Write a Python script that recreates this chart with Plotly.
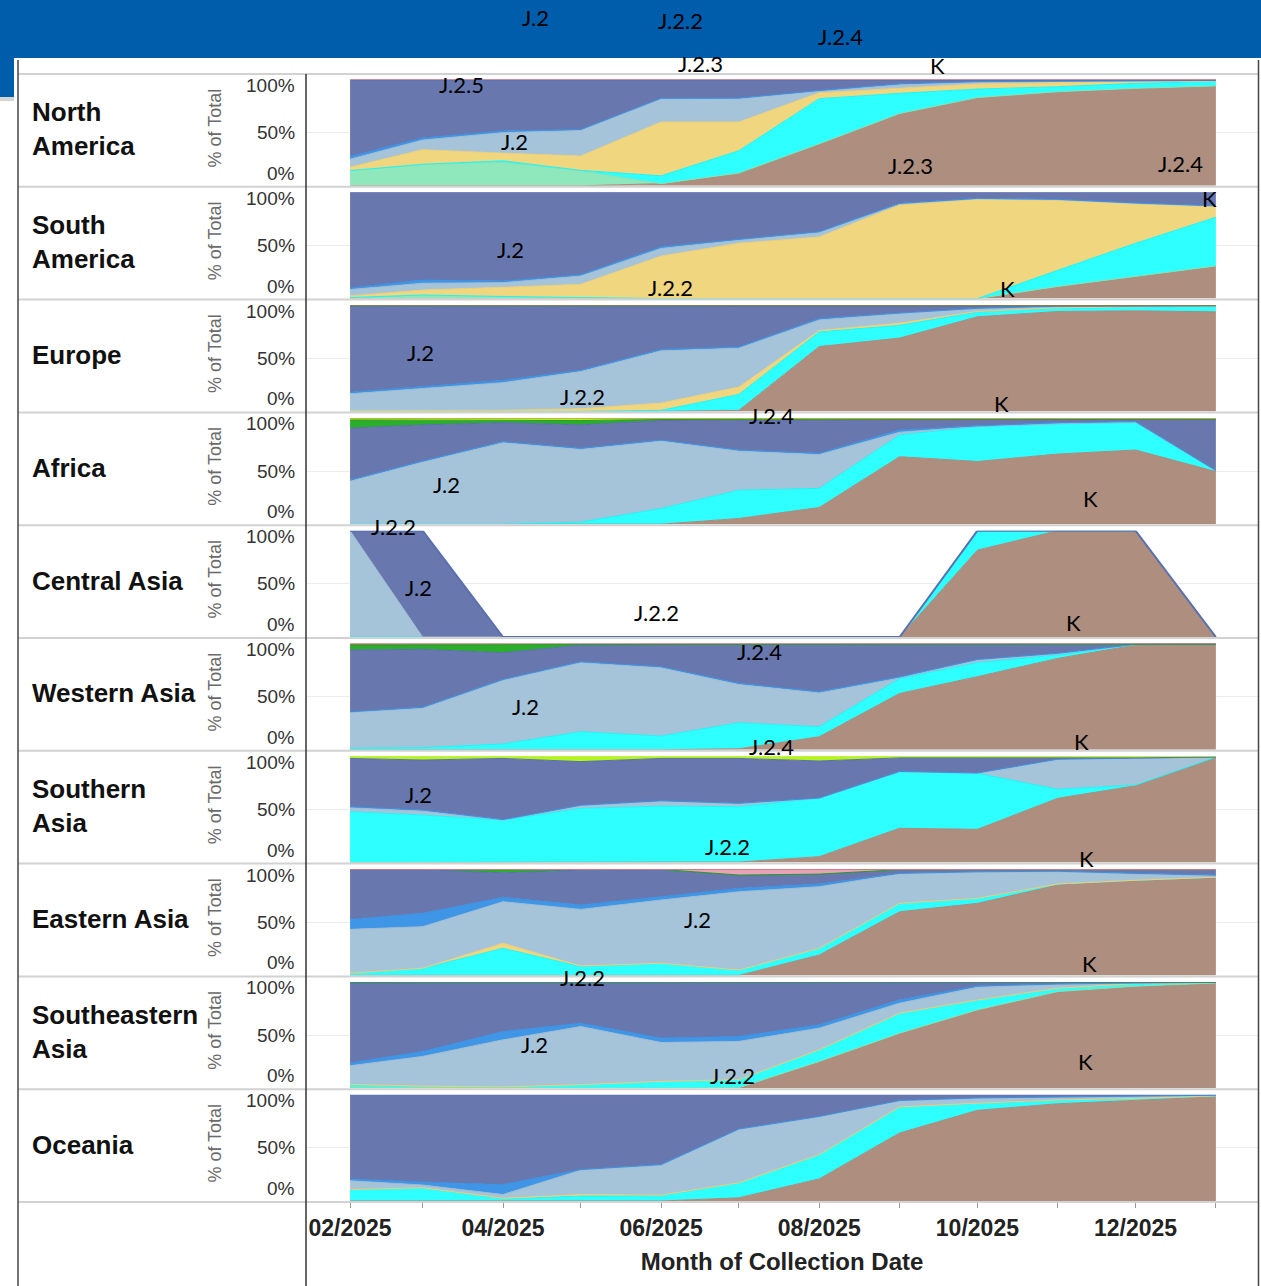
import plotly.graph_objects as go

W, H = 1261, 1286

# ---------------- data ----------------
MONTHS = ["2025-02-01", "2025-03-01", "2025-04-01", "2025-05-01", "2025-06-01", "2025-07-01",
          "2025-08-01", "2025-09-01", "2025-10-01", "2025-11-01", "2025-12-01", "2026-01-01"]

REGIONS = ["North<br>America", "South<br>America", "Europe", "Africa", "Central Asia",
           "Western Asia", "Southern<br>Asia", "Eastern Asia", "Southeastern<br>Asia", "Oceania"]

Y_TICK_TEXT = ["100%", "50%", "0%"]
Y_TITLE = "% of Total"
X_TITLE = "Month of Collection Date"

# share (% of total) per lineage group, Feb 2025 .. Jan 2026
NA_K      = [0, 0, 0, 0, 2, 12, 39.5, 68, 83, 88.5, 91.7, 94]
NA_MINT   = [14, 20, 22, 14, 0, 0, 0, 0, 0, 0, 0, 0]
NA_CYAN   = [0.3, 0.3, 1.5, 0.5, 7.4, 21, 42.5, 19, 8, 4.7, 4.7, 4]
NA_YELLOW = [3.2, 13.7, 7.2, 13.5, 50.6, 27, 5.5, 5, 4.8, 3.8, 1.2, 0.5]
NA_LBLUE  = [7.5, 9, 19.3, 24, 21.7, 21.7, 1.5, 3, 1.9, 1, 0.9, 0.5]
NA_BBLUE  = [2.5, 2, 1.6, 1, 0.6, 0.8, 0.7, 1, 0.3, 0.3, 0.2, 0.2]
NA_SLATE  = [72, 54.5, 47.9, 46.5, 17.2, 17, 9.8, 3.5, 1.5, 1.2, 0.8, 0.3]
NA_RED    = [0.5, 0.5, 0.5, 0.5, 0.5, 0.5, 0.5, 0.5, 0.5, 0.5, 0.5, 0.5]

SA_K      = [0, 0, 0, 0, 0, 0, 0, 0, 0, 11.4, 20.6, 30.7]
SA_MINT   = [1, 3.4, 2, 1, 0, 0, 0, 0, 0, 0, 0, 0]
SA_CYAN   = [0, 0, 0, 0, 0, 0, 0, 0, 0, 15.2, 31.4, 45.8]
SA_YELLOW = [1.5, 4.6, 8.6, 12.4, 40, 52, 58, 88, 93.5, 65.9, 37, 10]
SA_LBLUE  = [6, 6.4, 4.4, 7.8, 7.2, 3, 4, 1, 0.5, 0.5, 0.6, 0.5]
SA_BBLUE  = [1.5, 3.1, 1.5, 1.3, 1.6, 0.8, 1, 0.6, 0.3, 0.4, 0.4, 0.3]
SA_SLATE  = [90, 82.5, 83.5, 77.5, 51.2, 44.2, 37, 10.4, 5.7, 6.6, 10, 12.7]

EU_K      = [0, 0, 0, 0, 0, 1, 61, 69, 89, 94, 94.6, 93.7]
EU_CYAN   = [0, 0, 0, 0, 1, 15, 13.8, 12, 4.5, 3, 3.4, 5.3]
EU_YELLOW = [0.5, 0.8, 1, 2.5, 6.8, 6.9, 1.2, 2, 0.5, 0.5, 0.3, 0.2]
EU_LBLUE  = [16, 20.7, 26, 35, 49.2, 36.6, 10, 9, 2.8, 1, 0.5, 0.1]
EU_BBLUE  = [1.5, 2.1, 2.2, 1.2, 1.2, 1.2, 1.4, 0.5, 0.2, 0.5, 0.2, 0.1]
EU_SLATE  = [80.8, 75.2, 69.3, 59.8, 40.3, 38.1, 11.6, 6.5, 2.2, 0.3, 0.3, 0.1]
EU_GREEN  = [0.7, 0.7, 1, 1, 1, 0.7, 0.5, 0.5, 0.3, 0.2, 0.2, 0]
EU_RED    = [0.5, 0.5, 0.5, 0.5, 0.5, 0.5, 0.5, 0.5, 0.5, 0.5, 0.5, 0.5]

AF_K      = [0, 0, 0, 0, 0, 5.4, 15.7, 63.5, 59, 66, 69.8, 49.5]
AF_CYAN   = [0, 0, 0, 2, 14.8, 26.6, 18, 20.5, 32.8, 28.3, 25.8, 0.8]
AF_LBLUE  = [40.5, 58.4, 76.7, 68.4, 63.4, 36.8, 31.8, 2.5, 0.2, 0.2, 0.4, 0]
AF_BBLUE  = [1, 1, 1, 1, 1, 1, 1.2, 2.2, 0.5, 1, 0.5, 0.2]
AF_SLATE  = [48.8, 34, 17.8, 22, 18.3, 28.2, 31.6, 9.8, 6, 3, 2, 48]
AF_GREEN  = [7.7, 4.6, 2.5, 4.1, 1, 0.8, 0.7, 0.5, 0.5, 0.5, 0.5, 0.5]
AF_YGREEN = [1.7, 1.7, 1.7, 2, 1, 0.7, 0.5, 0.5, 0.5, 0.5, 0.5, 0.5]
AF_RED    = [0.3, 0.3, 0.3, 0.5, 0.5, 0.5, 0.5, 0.5, 0.5, 0.5, 0.5, 0.5]

CA_K      = [0, 0, 0, 0, 0, 0, 0, 0, 81.7, 100, 100, 0]
CA_CYAN   = [0, 0, 0, 0, 0, 0, 0, 0, 18.3, 0, 0, 0]
CA_LBLUE  = [100, 0, 0, 0, 0, 0, 0, 0, 0, 0, 0, 0]
CA_SLATE  = [0, 100, 0, 0, 0, 0, 0, 0, 0, 0, 0, 0]

WA_K      = [0, 0, 0, 0, 0, 1, 12.3, 53, 68.8, 86, 98.6, 99]
WA_CYAN   = [1.4, 2, 5.5, 17, 13, 24.5, 9.4, 14, 13.2, 3.2, 0.4, 0.2]
WA_LBLUE  = [33.6, 37, 59.8, 65, 64.2, 36, 31.8, 0.5, 2.5, 1.1, 0.1, 0.1]
WA_BBLUE  = [0.8, 1, 1, 0.9, 1, 1, 1.2, 1.3, 0.5, 0.5, 0.1, 0]
WA_SLATE  = [58.1, 54.5, 25, 15.6, 20.8, 36.5, 44.3, 30.2, 14, 8.2, 0.1, 0.1]
WA_GREEN  = [4.6, 4, 7.2, 0.5, 0.3, 0.3, 0.3, 0.3, 0.3, 0.3, 0.1, 0.1]
WA_RED    = [1.5, 1.5, 1.5, 1, 0.7, 0.7, 0.7, 0.7, 0.7, 0.7, 0.6, 0.5]

SO_K      = [0, 0, 0, 0, 0, 0.5, 5.6, 32.3, 31.3, 60.5, 72.3, 99]
SO_CYAN   = [47.9, 44.8, 40, 51, 53.2, 52.1, 54.9, 53.2, 52.7, 8.5, 0.7, 0.2]
SO_LBLUE  = [3.7, 3.7, 0, 2.5, 4.3, 2.7, 0, 0, 0, 28, 25, 0.1]
SO_BBLUE  = [1, 1, 0.5, 0.5, 0.7, 0.5, 0.3, 0.3, 0.3, 0.3, 0.3, 0]
SO_SLATE  = [45.4, 47, 57.5, 41, 39.8, 42.2, 34.8, 12.7, 14.2, 1.2, 0.2, 0]
SO_YGREEN = [2, 3.5, 2, 5, 2, 2, 4.4, 1.5, 1.5, 1.5, 1.5, 0.7]

EA_K      = [0, 0, 0, 0, 0, 0, 19.2, 59.9, 67.8, 85, 89, 92.2]
EA_CYAN   = [2, 6.7, 25.5, 8.3, 11.4, 5, 6.3, 7.9, 4.7, 1, 0.5, 0.2]
EA_YELLOW = [0, 0, 4.7, 0.5, 0, 0, 0, 0, 0, 0, 0, 0]
EA_LBLUE  = [41.3, 39.1, 39.1, 53.3, 59.5, 73.7, 57.9, 27.7, 24.5, 11.5, 5.8, 1.1]
EA_BBLUE  = [9.4, 12.6, 4.1, 4.1, 3.1, 3.2, 2.5, 0.5, 0.5, 0.5, 0.7, 0.9]
EA_SLATE  = [46.8, 41.1, 23.1, 32.8, 25.5, 12.5, 9.4, 3.5, 2, 1.5, 3.5, 5.1]
EA_GREEN  = [0.2, 0.2, 3, 0.5, 0.2, 0, 0, 0, 0, 0, 0, 0]
EA_PINK   = [0, 0, 0, 0, 0.3, 5.1, 4.2, 0, 0, 0, 0, 0]
EA_RED    = [0.3, 0.3, 0.5, 0.5, 0, 0.5, 0.5, 0.5, 0.5, 0.5, 0.5, 0.5]

SE_K      = [0, 0, 0, 0, 0, 0.5, 25.2, 51.8, 73.7, 90.9, 96, 99]
SE_MINT   = [1, 0.5, 0, 0, 0, 0, 0, 0, 0, 0, 0, 0]
SE_CYAN   = [2.3, 1.2, 1.2, 3.3, 6.4, 7.5, 11, 18.8, 9.3, 3.1, 2.4, 0.5]
SE_YELLOW = [0.2, 0.2, 0, 0, 0, 0, 0, 0, 0, 0, 0, 0]
SE_LBLUE  = [17.6, 28, 44.3, 54.7, 36.6, 36, 20.3, 9.4, 12, 3.5, 0.4, 0.1]
SE_BBLUE  = [2.6, 4.7, 7.8, 3.2, 4.1, 4.6, 3.1, 3.1, 1.2, 0.5, 0.2, 0]
SE_SLATE  = [75.3, 64.4, 45.7, 38, 51.9, 50.4, 39.4, 15.9, 2.8, 1, 0.2, 0]
SE_GREEN  = [1, 1, 1, 0.8, 1, 1, 1, 1, 1, 1, 0.8, 0.4]

OC_K      = [0, 0, 0, 0, 0, 3, 20.8, 64, 85.3, 91.5, 94.6, 98]
OC_CYAN   = [10.8, 12.4, 2, 4.7, 5, 14.1, 22.9, 24.5, 6.7, 3.5, 1.9, 1]
OC_YELLOW = [0, 0, 0.5, 1.3, 0.5, 0, 0, 0, 0, 0, 0, 0]
OC_LBLUE  = [8.2, 2.6, 3.6, 23, 28, 49.9, 35.3, 5.5, 4.5, 2.5, 1.5, 0.3]
OC_BBLUE  = [1.8, 2.7, 9.4, 0.6, 0.8, 0.8, 0.6, 0.6, 0.5, 0.5, 0.5, 0.2]
OC_SLATE  = [79.2, 82.3, 84.5, 70.4, 65.7, 32.2, 20.4, 5.4, 3, 2, 1.5, 0.5]

# lineage labels written over the chart: (text, x px, y px)
LINEAGE_LABELS = [
    ("J.2", 535, 17), ("J.2.2", 680, 20), ("J.2.4", 840, 36), ("J.2.3", 700, 63), ("K", 937, 65),
    ("J.2.5", 462, 84), ("J.2", 514, 141), ("J.2.3", 910, 166), ("J.2.4", 1180, 164), ("K", 1209, 198),
    ("J.2", 510, 249), ("J.2.2", 670, 287), ("K", 1007, 288),
    ("J.2", 420, 352), ("J.2.2", 582, 396), ("J.2.4", 771, 415), ("K", 1001, 404),
    ("J.2", 446, 484), ("K", 1090, 498),
    ("J.2.2", 393, 527), ("J.2", 418, 587), ("J.2.2", 656, 612), ("K", 1073, 622),
    ("J.2.4", 759, 651), ("J.2", 525, 706), ("J.2.4", 771, 746), ("K", 1081, 741),
    ("J.2", 418, 794), ("J.2.2", 728, 846), ("K", 1086, 858),
    ("J.2", 697, 919), ("K", 1089, 963), ("J.2.2", 582, 977),
    ("J.2", 534, 1044), ("J.2.2", 732, 1075), ("K", 1085, 1061),
]

# ---------------- styling ----------------
LAYERS = ["K", "mint", "cyan", "yellow", "lblue", "bblue", "slate", "green", "ygreen", "pink", "red"]
FILL = {"K": "#AD8E7F", "mint": "#8FE8BB", "cyan": "#2EFFFF", "yellow": "#F1D680",
        "lblue": "#A6C4D9", "bblue": "#3F96E6", "slate": "#6878AE", "green": "#2BAE2B",
        "ygreen": "#B6F41E", "pink": "#E9A3B6", "red": "#C87272"}
LINE = {"K": "#A9897A", "mint": "#86E2B3", "cyan": "#20F2F5", "yellow": "#ECCF75",
        "lblue": "#9DBBD3", "bblue": "#3C8FE0", "slate": "#5A6FAF", "green": "#259E25",
        "ygreen": "#ADEB18", "pink": "#E39AAE", "red": "#C06868"}

ROWS = [
    {"K": NA_K, "mint": NA_MINT, "cyan": NA_CYAN, "yellow": NA_YELLOW, "lblue": NA_LBLUE,
     "bblue": NA_BBLUE, "slate": NA_SLATE, "red": NA_RED},
    {"K": SA_K, "mint": SA_MINT, "cyan": SA_CYAN, "yellow": SA_YELLOW, "lblue": SA_LBLUE,
     "bblue": SA_BBLUE, "slate": SA_SLATE},
    {"K": EU_K, "cyan": EU_CYAN, "yellow": EU_YELLOW, "lblue": EU_LBLUE, "bblue": EU_BBLUE,
     "slate": EU_SLATE, "green": EU_GREEN, "red": EU_RED},
    {"K": AF_K, "cyan": AF_CYAN, "lblue": AF_LBLUE, "bblue": AF_BBLUE, "slate": AF_SLATE,
     "green": AF_GREEN, "ygreen": AF_YGREEN, "red": AF_RED},
    {"K": CA_K, "cyan": CA_CYAN, "lblue": CA_LBLUE, "slate": CA_SLATE},
    {"K": WA_K, "cyan": WA_CYAN, "lblue": WA_LBLUE, "bblue": WA_BBLUE, "slate": WA_SLATE,
     "green": WA_GREEN, "red": WA_RED},
    {"K": SO_K, "cyan": SO_CYAN, "lblue": SO_LBLUE, "bblue": SO_BBLUE, "slate": SO_SLATE,
     "ygreen": SO_YGREEN},
    {"K": EA_K, "cyan": EA_CYAN, "yellow": EA_YELLOW, "lblue": EA_LBLUE, "bblue": EA_BBLUE,
     "slate": EA_SLATE, "green": EA_GREEN, "pink": EA_PINK, "red": EA_RED},
    {"K": SE_K, "mint": SE_MINT, "cyan": SE_CYAN, "yellow": SE_YELLOW, "lblue": SE_LBLUE,
     "bblue": SE_BBLUE, "slate": SE_SLATE, "green": SE_GREEN},
    {"K": OC_K, "cyan": OC_CYAN, "yellow": OC_YELLOW, "lblue": OC_LBLUE, "bblue": OC_BBLUE,
     "slate": OC_SLATE},
]
NORMALISE = [True, True, True, True, False, True, True, True, True, True]

# ---------------- geometry (pixels) ----------------
X_LEFT, X_RIGHT = 306, 1258
ROW_H = 112.8
SEPS = [74 + ROW_H * i for i in range(11)]


def fx(p):
    return p / W


def fy(p):
    return 1 - p / H


fig = go.Figure()
layout = dict(
    width=W, height=H, autosize=False,
    margin=dict(l=0, r=0, t=0, b=0, pad=0),
    paper_bgcolor="white", plot_bgcolor="white",
    showlegend=False, hovermode=False,
    font=dict(family="Liberation Sans, Arial, sans-serif", color="#222"),
)

annotations = []
shapes = []

n = len(ROWS)
for r, row in enumerate(ROWS):
    top = SEPS[r] + 5.5
    bottom = SEPS[r + 1] - 1
    yname = "y" if r == 0 else f"y{r + 1}"
    ykey = "yaxis" if r == 0 else f"yaxis{r + 1}"
    layout[ykey] = dict(
        domain=[fy(bottom), fy(top)], range=[0, 100], anchor="x",
        tickvals=[0, 50, 100], showticklabels=False, ticks="",
        showgrid=True, gridcolor="#ececec", gridwidth=1,
        zeroline=False, showline=False, fixedrange=True,
    )
    first = True
    for layer in LAYERS:
        if layer not in row:
            continue
        kw = {}
        if first and NORMALISE[r]:
            kw["groupnorm"] = "percent"
        first = False
        lw = 2 if (layer == "slate" and not NORMALISE[r]) else 1
        fig.add_trace(go.Scatter(
            x=MONTHS, y=row[layer], name=layer, mode="lines",
            stackgroup=f"g{r}", fillcolor=FILL[layer],
            line=dict(color=LINE[layer], width=lw, shape="linear"),
            xaxis="x", yaxis=yname, hoverinfo="skip", **kw,
        ))

    # region label
    mid = (SEPS[r] + SEPS[r + 1]) / 2
    annotations.append(dict(
        text=f"<b>{REGIONS[r]}</b>", x=fx(30), y=fy(mid - 1), xref="paper", yref="paper",
        xanchor="left", yanchor="middle", align="left", showarrow=False,
        font=dict(size=26, color="#111", family="Liberation Sans, Arial, sans-serif"),
    ))
    # rotated axis title
    annotations.append(dict(
        text=Y_TITLE, x=fx(215), y=fy(mid - 2), xref="paper", yref="paper",
        xanchor="center", yanchor="middle", textangle=-90, showarrow=False,
        font=dict(size=18, color="#6a6a6a", family="Liberation Sans, Arial, sans-serif"),
    ))
    # tick labels (placed like the reference: inside the pane)
    for txt, ypx in zip(Y_TICK_TEXT, [top + 6, (top + bottom) / 2, bottom - 12.5]):
        annotations.append(dict(
            text=txt, x=fx(297), y=fy(ypx), xref="paper", yref="paper",
            xanchor="right", yanchor="middle", showarrow=False,
            font=dict(size=19, color="#333", family="Liberation Sans, Arial, sans-serif"),
        ))

layout["xaxis"] = dict(
    domain=[fx(X_LEFT), fx(X_RIGHT)], anchor=f"y{n}", type="date",
    range=["2025-01-15", "2026-01-17 06:00"],
    tick0="2025-02-01", dtick="M2", tickformat="%m/%Y",
    ticks="outside", ticklen=6, tickcolor="#999", tickwidth=1,
    minor=dict(dtick="M1", tick0="2025-02-01", ticks="outside", ticklen=6, tickcolor="#999"),
    showgrid=False, zeroline=False, showline=False, fixedrange=True,
    tickfont=dict(size=23, color="#222", family="Liberation Sans, Arial, sans-serif", weight="bold"),
    title=dict(text=X_TITLE, standoff=13,
               font=dict(size=24, color="#222", family="Liberation Sans, Arial, sans-serif", weight="bold")),
)

# header band
shapes.append(dict(type="rect", xref="paper", yref="paper", x0=0, x1=1, y0=fy(58), y1=1,
                   fillcolor="#005DAB", line=dict(width=0), layer="above"))
shapes.append(dict(type="rect", xref="paper", yref="paper", x0=0, x1=fx(14), y0=fy(97), y1=fy(58),
                   fillcolor="#005DAB", line=dict(width=0), layer="above"))
shapes.append(dict(type="rect", xref="paper", yref="paper", x0=0, x1=fx(14), y0=fy(101), y1=fy(97),
                   fillcolor="#d5d5d5", line=dict(width=0), layer="above"))
# row separators
for s in SEPS:
    shapes.append(dict(type="line", xref="paper", yref="paper", x0=fx(18), x1=fx(X_RIGHT), y0=fy(s), y1=fy(s),
                       line=dict(color="#d2d2d2", width=2), layer="above"))
# vertical rules
shapes.append(dict(type="line", xref="paper", yref="paper", x0=fx(18), x1=fx(18), y0=0, y1=fy(60),
                   line=dict(color="#444", width=1.5), layer="above"))
shapes.append(dict(type="line", xref="paper", yref="paper", x0=fx(X_LEFT), x1=fx(X_LEFT), y0=0, y1=fy(74),
                   line=dict(color="#333", width=1.5), layer="above"))
shapes.append(dict(type="line", xref="paper", yref="paper", x0=fx(X_RIGHT + 0.5), x1=fx(X_RIGHT + 0.5), y0=0,
                   y1=fy(60), line=dict(color="#444", width=1.5), layer="above"))

for txt, xp, yp in LINEAGE_LABELS:
    annotations.append(dict(
        text=txt, x=fx(xp), y=fy(yp), xref="paper", yref="paper",
        xanchor="center", yanchor="middle", showarrow=False,
        font=dict(size=22, color="#000", family="Lato, Open Sans, sans-serif"),
    ))

layout["annotations"] = annotations
layout["shapes"] = shapes
fig.update_layout(**layout)

fig.write_html("out.html", config={"displayModeBar": False},
               post_script="document.body.style.margin='0';document.body.style.overflow='hidden';")
